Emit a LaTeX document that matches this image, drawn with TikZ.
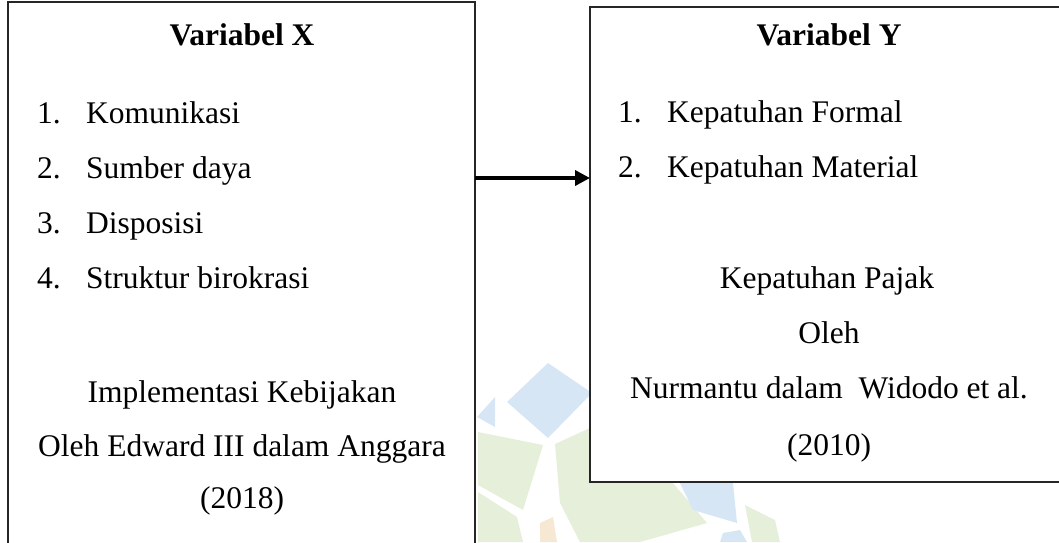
\documentclass[tikz,border=0pt]{standalone}
\usepackage{fontspec}
\setmainfont{Liberation Serif}
\usetikzlibrary{arrows.meta}
\definecolor{wmgreen}{RGB}{230,239,218}
\definecolor{wmblue}{RGB}{214,230,244}
\definecolor{wmorange}{RGB}{246,232,210}
\begin{document}
\begin{tikzpicture}[x=1pt,y=-1pt,
  box/.style={draw=black!85, line width=1.4pt, fill=white, inner sep=0pt, outer sep=0pt},
  txt/.style={anchor=base, inner sep=0pt, font=\fontsize{31.5}{38}\selectfont},
  numtxt/.style={anchor=base west, inner sep=0pt, font=\fontsize{31.5}{38}\selectfont},
  headtxt/.style={anchor=base, inner sep=0pt, font=\fontsize{31.5}{38}\selectfont\bfseries},
  flow/.style={line width=3.6pt, -{Triangle[length=15pt,width=15pt]}},
  wmg/.style={fill=wmgreen, draw=none},
  wmb/.style={fill=wmblue, draw=none},
  wmo/.style={fill=wmorange, draw=none}]
\useasboundingbox (0,0) rectangle (1059,542);
\clip (0,0) rectangle (1059,542);
% faint background watermark
\fill[wmb] (507,402) -- (548,363) -- (592,393) -- (548,438) -- cycle;
\fill[wmb] (477,417) -- (495,397) -- (495,427) -- cycle;
\fill[wmg] (478,432) -- (543,445) -- (523,510) -- (478,485) -- cycle;
\fill[wmg] (555,444) -- (592,427) -- (592,483) -- (673,483) -- (707,523) -- (640,542) -- (580,542) -- (560,503) -- cycle;
\fill[wmg] (478,492) -- (517,517) -- (523,542) -- (478,542) -- cycle;
\fill[wmb] (680,483) -- (733,483) -- (737,523) -- (693,510) -- cycle;
\fill[wmg] (745,505) -- (775,520) -- (780,542) -- (752,542) -- cycle;
\fill[wmb] (723,533) -- (740,530) -- (747,542) -- (720,542) -- cycle;
\fill[wmo] (540,523) -- (553,517) -- (557,542) -- (540,542) -- cycle;
% boxes
\node[box, minimum width=467pt, minimum height=578pt] (X) at (241.5,291) {};
\node[box, minimum width=500pt, minimum height=475pt] (Y) at (840,244.5) {};
% left box text
\node[headtxt] (xh) at (242,45) {Variabel X};
\node[numtxt] (xn1) at (37,123) {1.};
\node[numtxt] (xt1) at (86,123) {Komunikasi};
\node[numtxt] (xn2) at (37,178) {2.};
\node[numtxt] (xt2) at (86,178) {Sumber daya};
\node[numtxt] (xn3) at (37,233) {3.};
\node[numtxt] (xt3) at (86,233) {Disposisi};
\node[numtxt] (xn4) at (37,288) {4.};
\node[numtxt] (xt4) at (86,288) {Struktur birokrasi};
\node[txt] (xs1) at (242,402) {Implementasi Kebijakan};
\node[txt] (xs2) at (242,456) {Oleh Edward III dalam Anggara};
\node[txt] (xs3) at (242,508) {(2018)};
% right box text
\node[headtxt] (yh) at (829,45) {Variabel Y};
\node[numtxt] (yn1) at (618,122) {1.};
\node[numtxt] (yt1) at (667,122) {Kepatuhan Formal};
\node[numtxt] (yn2) at (618,177) {2.};
\node[numtxt] (yt2) at (667,177) {Kepatuhan Material};
\node[txt] (ys1) at (827,288) {Kepatuhan Pajak};
\node[txt] (ys2) at (829,343) {Oleh};
\node[txt] (ys3) at (829,398) {Nurmantu dalam\ \ Widodo et al.};
\node[txt] (ys4) at (829,455) {(2010)};
% connector
\coordinate (ay) at (0,178);
\draw[flow] (X.east |- ay) -- (Y.west |- ay);
\end{tikzpicture}
\end{document}
